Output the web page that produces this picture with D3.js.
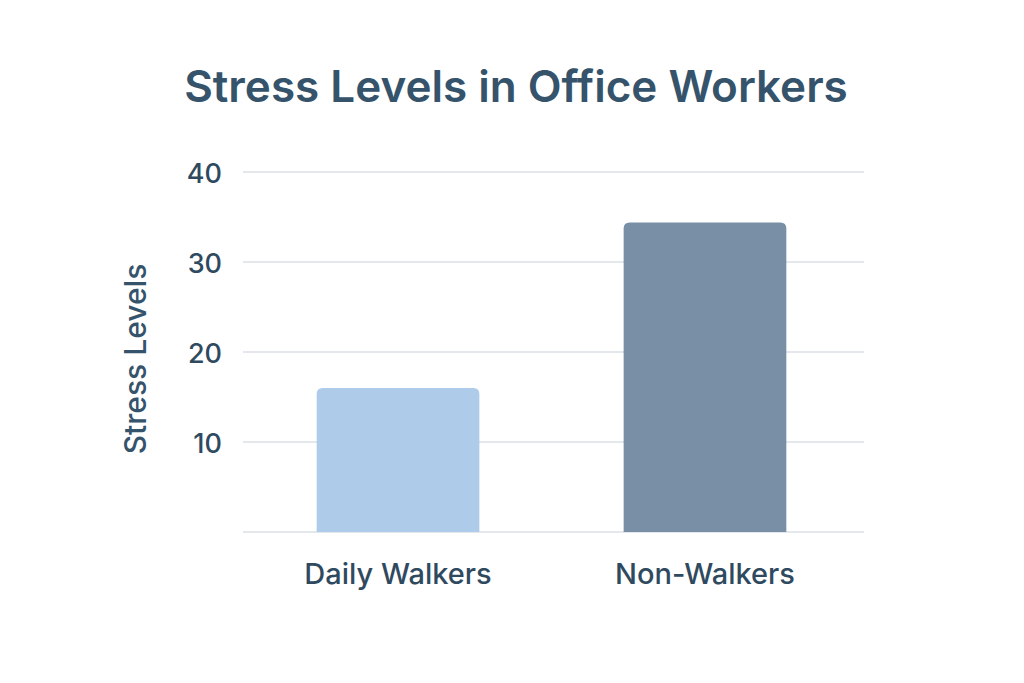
<!DOCTYPE html>
<html>
<head>
<meta charset="utf-8">
<script src="https://cdn.jsdelivr.net/npm/d3@7"></script>
<style>
  body { margin: 0; background: #fff; }
  svg text { font-family: "Inter", "Open Sans", sans-serif; fill: #2f4a5f; }
</style>
</head>
<body>
<script>
// chart data
var categories = ["Daily Walkers", "Non-Walkers"];
var stressValues = [16, 34.4];
var barColors = ["#aecbea", "#788fa6"];
var yTicks = [10, 20, 30, 40];

var W = 1024, H = 683;
var margin = {top: 172, right: 160, bottom: 151, left: 243},
    width = W - margin.left - margin.right,
    height = H - margin.top - margin.bottom;

var svg = d3.select("body").append("svg")
    .attr("width", W)
    .attr("height", H);

var g = svg.append("g")
    .attr("transform", "translate(" + margin.left + "," + margin.top + ")");

var x = d3.scaleBand()
    .domain(categories)
    .range([0, 617])
    .paddingInner(0.47)
    .paddingOuter(0.24);

var y = d3.scaleLinear()
    .domain([0, 40])
    .range([height, 0]);

// gridlines, including the baseline at 0
g.selectAll(".grid")
    .data([0].concat(yTicks))
    .enter().append("line")
    .attr("class", "grid")
    .attr("x1", 0)
    .attr("x2", width)
    .attr("y1", function(d){ return y(d); })
    .attr("y2", function(d){ return y(d); })
    .style("stroke", "#e4e8ec")
    .style("stroke-width", 2);

// y axis labels
var yAxis = g.append("g")
    .call(d3.axisLeft(y).tickValues(yTicks).tickSize(0).tickPadding(21));
yAxis.select(".domain").remove();
yAxis.selectAll("text")
    .attr("dy", "0.4em")
    .style("font-size", "27px")
    .style("font-weight", 500)
    .style("fill", "#2f4a5f");

// x axis labels
var xAxis = g.append("g")
    .attr("transform", "translate(0," + height + ")")
    .call(d3.axisBottom(x).tickSize(0).tickPadding(31));
xAxis.select(".domain").remove();
xAxis.selectAll("text")
    .style("font-size", "29px")
    .style("font-weight", 500)
    .style("fill", "#2f4a5f");

// bars, rounded on top only
function barPath(d, i){
    var x0 = x(categories[i]), bw = x.bandwidth(),
        y0 = y(d), y1 = y(0), r = 6;
    return "M" + x0 + "," + y1 +
        "V" + (y0 + r) +
        "Q" + x0 + "," + y0 + " " + (x0 + r) + "," + y0 +
        "H" + (x0 + bw - r) +
        "Q" + (x0 + bw) + "," + y0 + " " + (x0 + bw) + "," + (y0 + r) +
        "V" + y1 + "Z";
}

g.selectAll(".bar")
    .data(stressValues)
    .enter().append("path")
    .attr("class", "bar")
    .attr("d", barPath)
    .style("fill", function(d, i){ return barColors[i]; });

// title
svg.append("text")
    .attr("x", 516)
    .attr("y", 102)
    .attr("text-anchor", "middle")
    .style("font-size", "44px")
    .style("font-weight", 600)
    .style("fill", "#35536b")
    .text("Stress Levels in Office Workers");

// y axis title
svg.append("text")
    .attr("transform", "translate(146," + 359 + ") rotate(-90)")
    .attr("text-anchor", "middle")
    .style("font-size", "30px")
    .style("font-weight", 500)
    .style("fill", "#35536b")
    .text("Stress Levels");
</script>
</body>
</html>
